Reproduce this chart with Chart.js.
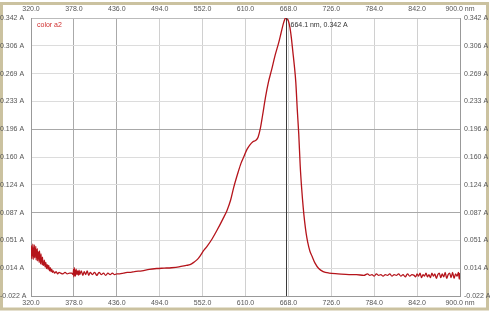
<!DOCTYPE html>
<html>
<head>
<meta charset="utf-8">
<script src="https://cdn.jsdelivr.net/npm/chart.js@4"></script>
<style>
html,body{margin:0;padding:0;background:#fff;}
#wrap{width:490px;height:311px;position:relative;}
</style>
</head>
<body>
<div id="wrap"><canvas id="c" width="490" height="311"></canvas></div>
<script>
// Wavelength (nm)
const wavelengths = [
320,320.5,321,321.5,322,322.5,323,323.5,324,324.5,325,325.5,326,326.5,327,327.5,328,328.5,329,329.5,330,330.5,331,331.5,332,332.5,333,333.5,334,334.5,335,335.5,336,337,338,339,340,341,342,343,344,345,346,347,348,349,350,352,354,356,358,360,363,366,369,372,375,
377,377.5,378,378.5,379,379.5,380,381,382,383,384,385,386,388,390,392,394,396,398,400,403,406,409,412,415,418,421,424,427,430,433,436,440,445,450,455,460,470,480,490,500,510,520,530,535,540,545,549,553,558,565,572,580,585,590,594,600,604,608,612,616,620,624,627,630,633,637,641,645,650,655,658,661,663,664.1,666,668,670,672,674,676,678,680,682,684,686,688,690,692,694,697,700,704,709,715,723,735,750,760,770,775,778,781,784,787,790,793,796,799,802,805,808,811,814,817,820,823,826,829,832,835,838,840,842,844,846,848,850,852,854,856,858,860,862,864,866,868,870,872,874,876,878,880,882,884,886,888,890,892,894,896,898,899,900];
// Absorbance (A)
const absorbance = [
0.031,0.044,0.027,0.041,0.033,0.046,0.026,0.039,0.030,0.045,0.028,0.037,0.033,0.043,0.025,0.038,0.029,0.040,0.024,0.036,0.030,0.035,0.022,0.037,0.027,0.031,0.020,0.033,0.024,0.028,0.019,0.029,0.022,0.018,0.025,0.016,0.022,0.014,0.019,0.013,0.018,0.011,0.015,0.010,0.013,0.009,0.011,0.008,0.010,0.007,0.009,0.008,0.007,0.009,0.007,0.008,0.008,
0.006,0.013,0.003,0.015,0.005,0.012,0.004,0.013,0.006,0.011,0.005,0.012,0.006,0.011,0.005,0.010,0.006,0.011,0.005,0.009,0.006,0.009,0.005,0.009,0.006,0.008,0.005,0.008,0.006,0.008,0.006,0.007,0.007,0.008,0.009,0.009,0.010,0.011,0.013,0.014,0.0145,0.015,0.016,0.018,0.019,0.022,0.026,0.031,0.037,0.043,0.053,0.065,0.080,0.090,0.104,0.120,0.140,0.152,0.161,0.170,0.176,0.180,0.182,0.186,0.197,0.214,0.238,0.258,0.273,0.293,0.310,0.322,0.334,0.340,0.342,0.341,0.338,0.330,0.316,0.298,0.280,0.258,0.222,0.190,0.148,0.118,0.094,0.075,0.060,0.049,0.037,0.030,0.021,0.014,0.010,0.008,0.007,0.006,0.006,0.005,0.007,0.005,0.006,0.004,0.007,0.005,0.006,0.004,0.006,0.005,0.007,0.004,0.006,0.005,0.007,0.004,0.006,0.003,0.007,0.004,0.006,0.005,0.003,0.007,0.004,0.008,0.002,0.006,0.004,0.008,0.003,0.006,0.002,0.008,0.004,0.007,0.001,0.006,0.008,0.002,0.007,0.003,0.009,0.001,0.006,0.008,0.002,0.009,0.001,0.007,0.004,0.009,0.000,0.008,0.002,0.009,0.001,0.006,0.009,0.000,0.008,0.001,0.004];

const xTickValues = [320,378,436,494,552,610,668,726,784,842,900];
const xTickLabels = ['320.0','378.0','436.0','494.0','552.0','610.0','668.0','726.0','784.0','842.0','900.0 nm'];
const yTickValues = [-0.022,0.0144,0.0508,0.0872,0.1236,0.16,0.1964,0.2328,0.2692,0.3056,0.342];
const yTickLabels = ['-0.022 A','0.014 A','0.051 A','0.087 A','0.124 A','0.160 A','0.196 A','0.233 A','0.269 A','0.306 A','0.342 A'];
const seriesName = 'color a2';
const peak = {x: 664.1, y: 0.342, label: '664.1 nm, 0.342 A'};

const FONT = {family: 'Liberation Sans, Arial, sans-serif', size: 7};
const TICKCOL = '#555';

function setTicks(values){ return function(scale){ scale.ticks = values.map(v=>({value:v})); }; }
function fmt(values, labels){ return function(v){ const i = values.findIndex(t=>Math.abs(t-v)<1e-6); return i>=0?labels[i]:''; }; }

const vGrid = (ctx)=> (ctx.index===1||ctx.index===2) ? '#aaaaaa' : '#d0d0d0';
const hGrid = (ctx)=> (ctx.index===3||ctx.index===6) ? '#a8a8a8' : '#dcdcdc';

const framePlugin = {
  id:'frame',
  beforeDraw(chart){
    const c = chart.ctx;
    c.save();
    c.fillStyle='#fff'; c.fillRect(0,0,chart.width,chart.height);
    c.strokeStyle='#cbc2a0';
    c.lineWidth=3;
    c.strokeRect(1.5,3.5,486,305.5);
    c.restore();
  },
  afterDatasetsDraw(chart){
    const c = chart.ctx, xs = chart.scales.x, ys = chart.scales.y, a = chart.chartArea;
    c.save();
    const px = xs.getPixelForValue(peak.x);
    c.strokeStyle='#3a3a3a'; c.lineWidth=1;
    c.beginPath(); c.moveTo(Math.round(px)+0.5,a.top); c.lineTo(Math.round(px)+0.5,a.bottom); c.stroke();
    c.font = '7px Liberation Sans, Arial, sans-serif';
    c.fillStyle='#333'; c.textBaseline='middle'; c.textAlign='left';
    c.fillText(peak.label, px+5, ys.getPixelForValue(peak.y)+7);
    c.fillStyle='#d03030';
    c.fillText(seriesName, a.left+6, a.top+7);
    c.restore();
  }
};

new Chart(document.getElementById('c'), {
  type:'line',
  data:{ datasets:[{
    label: seriesName,
    data: wavelengths.map((w,i)=>({x:w,y:absorbance[i]})),
    borderColor:'#b5141b', borderWidth:1.3, pointRadius:0, cubicInterpolationMode:'monotone', fill:false
  }]},
  options:{
    responsive:false, animation:false, parsing:true,
    layout:{padding:0},
    plugins:{legend:{display:false}, tooltip:{enabled:false}},
    scales:{
      x:{type:'linear', position:'bottom', min:320, max:900,
        afterBuildTicks:setTicks(xTickValues),
        afterFit(s){ s.height=15; },
        grid:{color:vGrid, drawTicks:false, tickLength:0},
        border:{color:'#999'},
        ticks:{font:FONT, color:TICKCOL, padding:3, maxRotation:0, autoSkip:false, callback:fmt(xTickValues,xTickLabels)}
      },
      x2:{type:'linear', position:'top', min:320, max:900,
        afterBuildTicks:setTicks(xTickValues),
        afterFit(s){ s.height=18; },
        grid:{display:false, drawTicks:false, tickLength:0},
        border:{color:'#bbb'},
        ticks:{font:FONT, color:TICKCOL, padding:5, maxRotation:0, autoSkip:false, callback:fmt(xTickValues,xTickLabels)}
      },
      y:{type:'linear', position:'left', min:-0.022, max:0.342,
        afterBuildTicks:setTicks(yTickValues),
        afterFit(s){ s.width=31; },
        grid:{color:hGrid, drawTicks:false, tickLength:0},
        border:{color:'#999'},
        ticks:{font:FONT, color:TICKCOL, crossAlign:'far', padding:2, autoSkip:false, callback:fmt(yTickValues,yTickLabels)}
      },
      y2:{type:'linear', position:'right', min:-0.022, max:0.342,
        afterBuildTicks:setTicks(yTickValues),
        afterFit(s){ s.width=30; },
        grid:{display:false, drawTicks:false, tickLength:0},
        border:{color:'#999'},
        ticks:{font:FONT, color:TICKCOL, crossAlign:'near', padding:4, autoSkip:false, callback:fmt(yTickValues,yTickLabels)}
      }
    }
  },
  plugins:[framePlugin]
});
</script>
</body>
</html>
